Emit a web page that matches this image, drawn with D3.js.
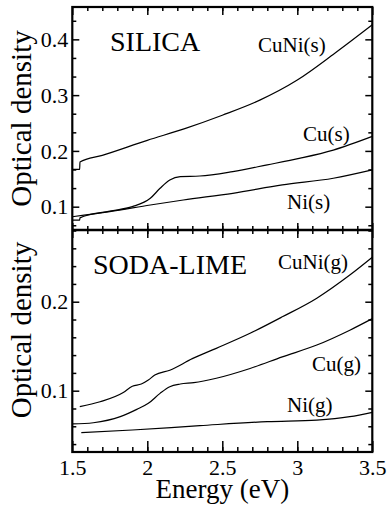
<!DOCTYPE html>
<html>
<head>
<meta charset="utf-8">
<script src="https://cdn.jsdelivr.net/npm/d3@7"></script>
</head>
<body style="margin:0">
<svg id="chart" width="390" height="514" font-family="Liberation Serif"></svg>
<script>
// energy axis (eV)
const energyMajor = [1.5, 2, 2.5, 3, 3.5];
const energyMinor = d3.range(1.6, 3.45, 0.1);

// optical density ticks
const silicaMajor = [0.1, 0.2, 0.3, 0.4];
const silicaMinor = [0.0667, 0.1333, 0.1667, 0.2333, 0.2667, 0.3333, 0.3667, 0.4333];
const sodaMajor = [0.1, 0.2];
const sodaMinor = [0.04, 0.06, 0.08, 0.12, 0.14, 0.16, 0.18, 0.22, 0.24, 0.26, 0.28];

// SILICA substrate: [energy, optical density]
const cuNiS = [[1.5, 0.167], [1.549, 0.167], [1.551, 0.180], [1.7, 0.192], [2.0, 0.219],
  [2.25, 0.240], [2.5, 0.264], [2.75, 0.291], [3.0, 0.327], [3.25, 0.375], [3.5, 0.426]];
const cuS = [[1.5, 0.076], [1.549, 0.076], [1.551, 0.080], [1.75, 0.092], [1.9, 0.100],
  [2.02, 0.115], [2.085, 0.133], [2.15, 0.148], [2.22, 0.154], [2.35, 0.155], [2.57, 0.163],
  [2.8, 0.175], [3.02, 0.187], [3.24, 0.2015], [3.5, 0.226]];
const niS = [[1.5, 0.082], [1.75, 0.091], [2.02, 0.103], [2.24, 0.112], [2.57, 0.124],
  [2.9, 0.139], [3.24, 0.151], [3.5, 0.166]];

// SODA-LIME substrate
const cuNiG = [[1.55, 0.082], [1.685, 0.0876], [1.84, 0.098], [1.9, 0.105], [1.96, 0.1075],
  [2.007, 0.112], [2.05, 0.1176], [2.15, 0.123], [2.3, 0.136], [2.46, 0.1476], [2.685, 0.1645],
  [2.9, 0.183], [3.13, 0.204], [3.35, 0.230], [3.5, 0.250]];
const cuG = [[1.5, 0.0626], [1.64, 0.064], [1.82, 0.0708], [1.93, 0.079], [2.007, 0.0858],
  [2.085, 0.097], [2.15, 0.1045], [2.22, 0.1075], [2.31, 0.109], [2.46, 0.114], [2.685, 0.125],
  [2.9, 0.138], [3.13, 0.1513], [3.35, 0.168], [3.5, 0.181]];
const niG = [[1.56, 0.0528], [1.9, 0.0558], [2.35, 0.0607], [2.8, 0.0652], [3.13, 0.067],
  [3.35, 0.0708], [3.5, 0.0757]];

let svg = d3.select("#chart");
let plotLeft = 72.3, plotRight = 372.3, plotTop = 7, plotMid = 230, plotBottom = 452;

let x = d3.scaleLinear().domain([1.5, 3.5]).range([plotLeft, plotRight]);
let ySilica = d3.scaleLinear().domain([0.0582, 0.458]).range([plotMid, plotTop]);
let ySoda = d3.scaleLinear().domain([0.0311, 0.2806]).range([plotBottom, plotMid]);

let fmtX = d3.format("~g");
let fmtY = d3.format(".1f");

function curve(y) {
  return d3.line()
    .x(function (d) { return x(d[0]); })
    .y(function (d) { return y(d[1]); })
    .curve(d3.curveMonotoneX);
}

function addAxis(axis, tx, ty) {
  let g = svg.append("g")
    .attr("transform", "translate(" + tx + "," + ty + ")")
    .call(axis)
    .attr("font-family", "Liberation Serif")
    .attr("font-size", 22);
  g.select(".domain").remove();
  g.selectAll(".tick line").attr("stroke", "#000").attr("stroke-width", 1.5);
  g.selectAll("text").attr("fill", "#000");
  return g;
}

function panel(y, major, minor) {
  let y1 = y.range()[1];
  // y ticks, both sides, pointing in
  addAxis(d3.axisLeft(y).tickValues(major).tickSizeInner(-7).tickPadding(4).tickFormat(fmtY), plotLeft, 0)
    .selectAll("text").attr("dy", "0.33em");
  addAxis(d3.axisLeft(y).tickValues(minor).tickSizeInner(-4).tickFormat(""), plotLeft, 0);
  addAxis(d3.axisRight(y).tickValues(major).tickSizeInner(-7).tickFormat(""), plotRight, 0);
  addAxis(d3.axisRight(y).tickValues(minor).tickSizeInner(-4).tickFormat(""), plotRight, 0);
  // energy ticks on the top edge
  addAxis(d3.axisTop(x).tickValues(energyMajor).tickSizeInner(-8).tickFormat(""), 0, y1);
  addAxis(d3.axisTop(x).tickValues(energyMinor).tickSizeInner(-4).tickFormat(""), 0, y1);
}

panel(ySilica, silicaMajor, silicaMinor);
panel(ySoda, sodaMajor, sodaMinor);

// ticks on the shared edge point up into SILICA too
addAxis(d3.axisBottom(x).tickValues(energyMajor).tickSizeInner(-7).tickFormat(""), 0, plotMid);
addAxis(d3.axisBottom(x).tickValues(energyMinor).tickSizeInner(-4).tickFormat(""), 0, plotMid);

// bottom energy axis with labels
addAxis(d3.axisBottom(x).tickValues(energyMajor).tickSizeInner(-11).tickPadding(0).tickFormat(fmtX), 0, plotBottom)
  .selectAll("text").attr("y", 23).attr("dy", null);
addAxis(d3.axisBottom(x).tickValues(energyMinor).tickSizeInner(-5).tickFormat(""), 0, plotBottom);

// frames
svg.append("rect")
  .attr("x", plotLeft).attr("y", plotTop)
  .attr("width", plotRight - plotLeft).attr("height", plotBottom - plotTop)
  .attr("fill", "none").attr("stroke", "#000").attr("stroke-width", 2.2);
svg.append("line")
  .attr("x1", plotLeft).attr("x2", plotRight)
  .attr("y1", plotMid).attr("y2", plotMid)
  .attr("stroke", "#000").attr("stroke-width", 2.5);

// curves
let series = [
  { data: cuNiS, y: ySilica }, { data: cuS, y: ySilica }, { data: niS, y: ySilica },
  { data: cuNiG, y: ySoda }, { data: cuG, y: ySoda }, { data: niG, y: ySoda }
];
series.forEach(function (s) {
  svg.append("path")
    .datum(s.data)
    .attr("d", curve(s.y))
    .attr("fill", "none")
    .attr("stroke", "#000")
    .attr("stroke-width", 1.2);
});

// text labels
let labels = [
  { t: "SILICA", x: 110, y: 51, size: 28 },
  { t: "SODA-LIME", x: 93, y: 274, size: 28 },
  { t: "CuNi(s)", x: 258, y: 52, size: 21 },
  { t: "Cu(s)", x: 303, y: 141, size: 21 },
  { t: "Ni(s)", x: 287, y: 209, size: 21 },
  { t: "CuNi(g)", x: 278, y: 269, size: 21 },
  { t: "Cu(g)", x: 312, y: 371, size: 21 },
  { t: "Ni(g)", x: 287, y: 412, size: 21 }
];
labels.forEach(function (l) {
  svg.append("text")
    .attr("x", l.x).attr("y", l.y)
    .attr("font-family", "Liberation Serif")
    .attr("font-size", l.size)
    .text(l.t);
});

svg.append("text")
  .attr("x", (plotLeft + plotRight) / 2).attr("y", 498)
  .attr("text-anchor", "middle")
  .attr("font-family", "Liberation Serif")
  .attr("font-size", 27)
  .text("Energy (eV)");

[118.5, 330].forEach(function (cy) {
  svg.append("text")
    .attr("transform", "translate(31," + cy + ") rotate(-90)")
    .attr("text-anchor", "middle")
    .attr("font-family", "Liberation Serif")
    .attr("font-size", 29)
    .text("Optical density");
});
</script>
</body>
</html>
